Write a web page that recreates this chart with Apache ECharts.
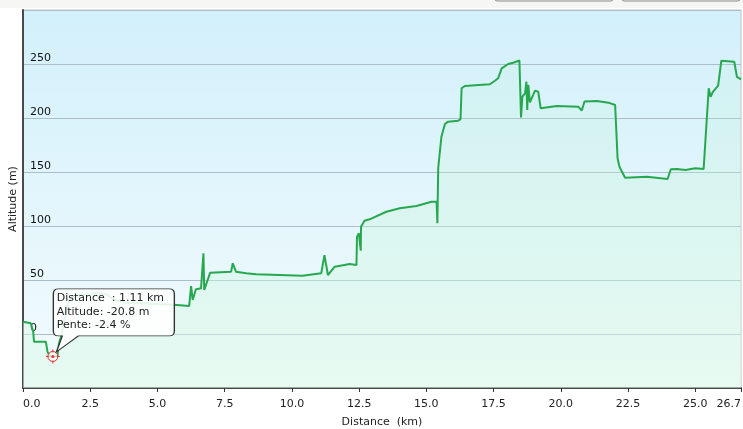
<!DOCTYPE html>
<html>
<head>
<meta charset="utf-8">
<script src="https://cdn.jsdelivr.net/npm/echarts@6/dist/echarts.min.js"></script>
<style>
html,body{margin:0;padding:0;background:#fff;}
#chart{width:743px;height:429px;}
</style>
</head>
<body>
<div id="chart"></div>
<script>
const distances = [0, 0.29, 0.38, 0.41, 0.85, 0.91, 1.03, 1.11, 1.28, 1.34, 1.40, 1.47, 1.60, 1.75, 1.95, 2.40, 2.65, 3.10, 3.35, 3.80, 4.70, 5.60, 6.18, 6.25, 6.31, 6.43, 6.62, 6.71, 6.74, 6.81, 6.96, 7.74, 7.80, 7.92, 8.30, 8.67, 10.39, 11.09, 11.21, 11.34, 11.59, 12.15, 12.40, 12.42, 12.49, 12.56, 12.57, 12.70, 12.89, 13.51, 14.01, 14.63, 15.19, 15.38, 15.41, 15.44, 15.50, 15.56, 15.69, 15.81, 16.18, 16.27, 16.31, 16.43, 17.36, 17.55, 17.67, 17.80, 18.04, 18.23, 18.46, 18.52, 18.57, 18.67, 18.72, 18.75, 18.79, 18.85, 19.04, 19.16, 19.25, 19.85, 20.65, 20.78, 20.88, 21.34, 21.77, 22.02, 22.08, 22.11, 22.18, 22.39, 23.20, 23.97, 24.09, 24.32, 24.63, 25.00, 25.31, 25.50, 25.57, 25.65, 25.85, 25.91, 25.97, 26.45, 26.55, 26.70];
const altitudes = [11.4, 9.9, 2.1, -7.1, -7.1, -16.4, -21.0, -20.8, -20.4, -8.3, -3.7, 5, 22, 33, 36, 36, 38, 37, 32, 29, 28, 27, 26, 44.4, 31.5, 41.4, 42.3, 74.7, 40.7, 42.3, 56.8, 57.7, 65.5, 57.7, 56.2, 55.3, 54, 56.2, 73.1, 54.6, 62.3, 64.8, 63.9, 90.1, 93.2, 77.1, 99.4, 104.9, 106.2, 113.2, 116.4, 118.5, 122.5, 122.5, 102.5, 153.7, 154.9, 182.7, 194.4, 196.6, 197.5, 198.8, 227.5, 229.6, 231.2, 234.5, 236.8, 246, 250, 251.2, 253.2, 200.6, 219.7, 222.9, 233.6, 207.4, 230.6, 214.4, 225.3, 224.4, 209, 211.1, 210.5, 206.9, 215.3, 215.7, 214.2, 212, 210.6, 162.7, 154.9, 144.7, 145.6, 143.5, 152.5, 152.8, 151.9, 153.4, 152.8, 227.5, 219.7, 224, 230, 231.5, 253.1, 252.1, 238, 235.8];
const xTickStep = 2.5;
const yTickStep = 50;
const xMax = 26.7;
const yMin = -50, yMax = 300;
// Highlighted point shown in the callout
const hoverDistance = 1.11;
const hoverAltitude = -20.8;
const hoverSlope = -2.4;

const FONT = 'DejaVu Sans';
const seriesData = distances.map((d, i) => [d, altitudes[i]]);

const chart = echarts.init(document.getElementById('chart'), null, {renderer: 'canvas'});
const calloutPath = 'path://M5 0H116Q121 0 121 5V42Q121 47 116 47H25L3 63L9 47H5Q0 47 0 42V5Q0 0 5 0Z';
const crossPath = 'path://M-7 0H-4M4 0H7M0 -7V-4M0 4V7M5 0A5 5 0 1 1 -5 0A5 5 0 1 1 5 0Z';

chart.setOption({
  animation: false,
  backgroundColor: '#ffffff',
  graphic: [
    {type: 'rect', left: 0, top: 0, shape: {width: 743, height: 8}, style: {fill: '#f6f6f4'}, silent: true},
    {type: 'rect', shape: {x: 495, y: -10, width: 118, height: 11, r: 2}, style: {fill: '#f2f2f2', stroke: '#8a8a8a', lineWidth: 1}, silent: true},
    {type: 'rect', shape: {x: 622, y: -10, width: 118, height: 11, r: 2}, style: {fill: '#f2f2f2', stroke: '#8a8a8a', lineWidth: 1}, silent: true}
  ],
  grid: {
    show: true,
    left: 23, right: 2, top: 10, bottom: 41,
    containLabel: false,
    outerBoundsMode: 'none',
    backgroundColor: new echarts.graphic.LinearGradient(0, 0, 0, 1, [
      {offset: 0, color: '#d2f0fb'},
      {offset: 1, color: '#f3fbfd'}
    ]),
    borderColor: '#c4c4c4',
    borderWidth: 1
  },
  xAxis: {
    type: 'value',
    min: 0, max: xMax, interval: xTickStep,
    name: 'Distance  (km)',
    nameLocation: 'middle',
    nameGap: 29,
    nameTextStyle: {fontFamily: FONT, fontSize: 11, color: '#222'},
    axisLine: {show: true, onZero: false, lineStyle: {color: '#4a4a4a', width: 2}},
    axisTick: {show: true, length: 4, lineStyle: {color: '#333'}},
    axisLabel: {
      formatter: v => v.toFixed(1),
      alignMinLabel: 'left',
      alignMaxLabel: 'right',
      fontFamily: FONT, fontSize: 11, color: '#222', margin: 11
    },
    splitLine: {show: false}
  },
  yAxis: {
    type: 'value',
    min: yMin, max: yMax, interval: yTickStep,
    name: 'Altitude (m)',
    nameLocation: 'middle',
    nameGap: 4,
    nameRotate: 90,
    nameMoveOverlap: false,
    nameTextStyle: {fontFamily: FONT, fontSize: 11, color: '#222'},
    axisLine: {show: true, onZero: false, lineStyle: {color: '#4a4a4a', width: 2}},
    axisTick: {show: false},
    axisLabel: {
      inside: true,
      margin: 7,
      verticalAlign: 'bottom',
      lineHeight: 12,
      formatter: v => (v < 0 || v >= yMax) ? '' : String(v),
      fontFamily: FONT, fontSize: 11, color: '#111'
    },
    splitLine: {show: true, lineStyle: {color: '#a9bec8', width: 1}}
  },
  series: [{
    type: 'line',
    data: seriesData,
    showSymbol: false,
    symbol: 'none',
    sampling: null,
    lineStyle: {color: '#27a84f', width: 2},
    areaStyle: {
      origin: 'start',
      color: new echarts.graphic.LinearGradient(0, 0, 0, 1, [
        {offset: 0, color: 'rgba(180,240,205,0.2)'},
        {offset: 1, color: 'rgba(222,250,234,0.78)'}
      ])
    },
    markPoint: {
      silent: true,
      animation: false,
      data: [
        {
          coord: [hoverDistance, hoverAltitude],
          symbol: crossPath,
          symbolSize: 14,
          itemStyle: {color: 'rgba(255,255,255,0.7)', borderColor: '#e83030', borderWidth: 1},
          label: {show: false}
        },
        {
          coord: [hoverDistance, hoverAltitude],
          symbol: 'circle',
          symbolSize: 3,
          itemStyle: {color: '#e83030'},
          label: {show: false}
        },
        {
          coord: [hoverDistance, hoverAltitude],
          symbol: calloutPath,
          symbolSize: [121, 63],
          symbolOffset: [61, -36],
          symbolKeepAspect: false,
          itemStyle: {color: 'rgba(255,255,255,0.88)', borderColor: '#333', borderWidth: 1},
          label: {
            show: true,
            position: [4, 3],
            align: 'left',
            verticalAlign: 'top',
            formatter: 'Distance  : ' + hoverDistance.toFixed(2) + ' km\nAltitude: ' + hoverAltitude.toFixed(1) + ' m\nPente: ' + hoverSlope.toFixed(1) + ' %',
            fontFamily: FONT, fontSize: 11, lineHeight: 13.5, color: '#222'
          }
        }
      ]
    }
  }]
});
</script>
</body>
</html>
